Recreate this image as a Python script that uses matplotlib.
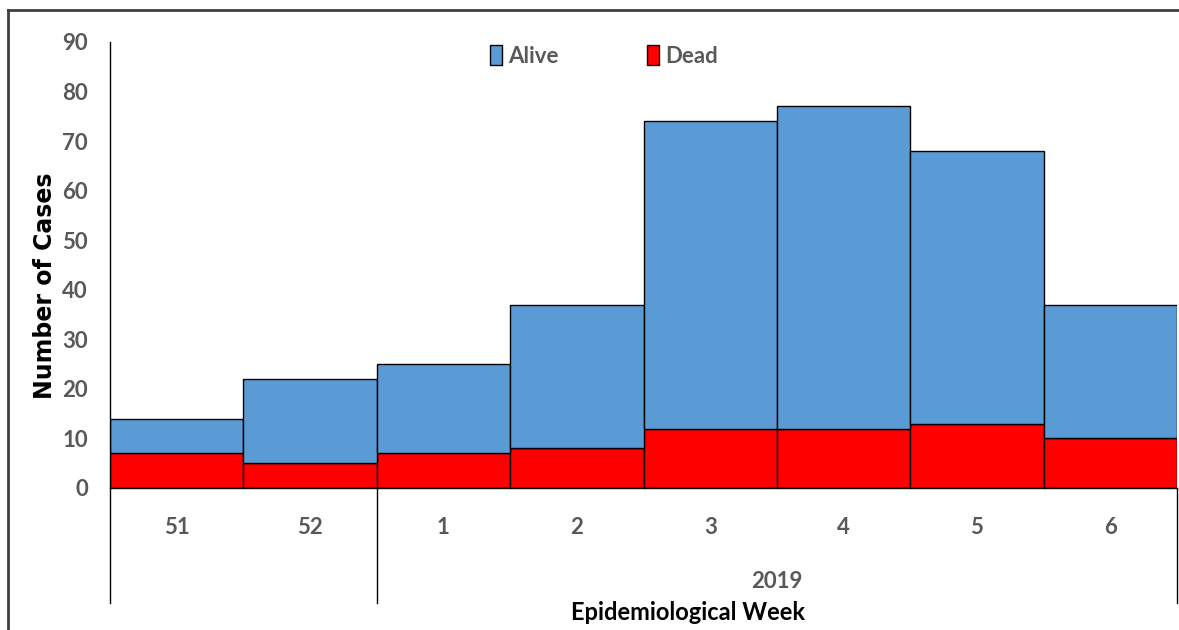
"""
epidemic curve by epidemiological week, alive / dead stacked
"""

import numpy as np
import matplotlib
matplotlib.use("Agg")
import matplotlib.pyplot as plt
from matplotlib.lines import Line2D

weeks = ["51", "52", "1", "2", "3", "4", "5", "6"]
dead = [7, 5, 7, 8, 12, 12, 13, 10]
alive = [7, 17, 18, 29, 62, 65, 55, 27]
year_label = "2019"

narrow = ["Lato", "DejaVu Sans"]
grey = "#595959"

fig = plt.figure(figsize=(11.79, 6.3), dpi=100)
ax = fig.add_axes([110/1179, 1-488/630, 1067/1179, 446/630])

x = np.arange(len(weeks))
ax.bar(x, dead, width=1.0, color="#FF0000", edgecolor="black", lw=1,
       label="Dead")
ax.bar(x, alive, width=1.0, bottom=dead, color="#5B9BD5",
       edgecolor="black", lw=1, label="Alive")

ax.set_xlim(-0.5, len(weeks)-0.5)
ax.set_ylim(0, 90)
ax.set_yticks(range(0, 91, 10))
ax.set_xticks(x)
ax.set_xticklabels(weeks)
for s in ["top", "right", "left"]:
    ax.spines[s].set_visible(False)
ax.spines["bottom"].set_color("black")
ax.spines["bottom"].set_linewidth(1)
ax.tick_params(axis="both", length=0, colors=grey)
ax.tick_params(axis="x", pad=21)
ax.tick_params(axis="y", pad=16)
for lab in ax.get_xticklabels() + ax.get_yticklabels():
    lab.set_family(narrow)
    lab.set_fontweight("bold")
    lab.set_fontsize(16)

# axis line and group separators reaching below the labels
trans = ax.get_xaxis_transform()
ybot = (488-603)/446
for xs, ytop in [(-0.5, 1.0), (1.5, 0.0), (len(weeks)-0.5, 0.0)]:
    ax.add_line(Line2D([xs, xs], [ybot, ytop], transform=trans,
                       color="black", lw=1, clip_on=False))

ax.text(4.5, (488-581)/446, year_label, transform=trans, ha="center",
        va="center", color=grey, fontsize=16, fontweight="bold",
        family=narrow)
fig.text(688/1179, 1-612/630, "Epidemiological Week", ha="center",
         va="center", fontsize=17, fontweight="bold", family=narrow)
fig.text(45/1179, 1-286/630, "Number of Cases", rotation=90, ha="center",
         va="center", fontsize=17, fontweight="bold")

h, l = ax.get_legend_handles_labels()
leg = ax.legend(h[::-1], l[::-1], ncol=2, frameon=False, loc="center left",
                bbox_to_anchor=(470/1179, 1-56/630),
                bbox_transform=fig.transFigure,
                handlelength=0.55, handleheight=1.0, handletextpad=0.25,
                columnspacing=4.0,
                prop={"family": narrow, "weight": "bold", "size": 16})
for t in leg.get_texts():
    t.set_color(grey)

# outer frame
fig.add_artist(Line2D([8/1179, 1], [1-10/630, 1-10/630],
                      transform=fig.transFigure, color="#404040", lw=2))
fig.add_artist(Line2D([8/1179, 8/1179], [0, 1-10/630],
                      transform=fig.transFigure, color="#404040", lw=2))

fig.savefig("out.png", dpi=100)
